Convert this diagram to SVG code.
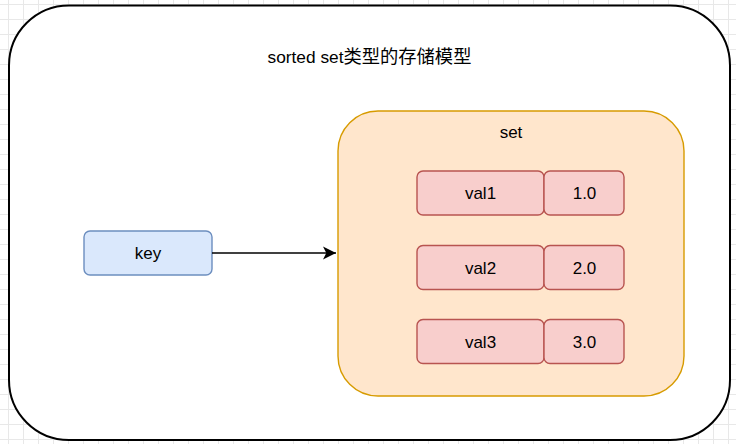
<svg xmlns="http://www.w3.org/2000/svg" width="736" height="444" viewBox="0 0 736 444">
<style>
text{font-family:"Liberation Sans",Arial,"Noto Sans CJK SC",sans-serif;font-size:17px;fill:#000;text-anchor:middle}
.title{font-size:17.3px}
.cjk{font-family:"Noto Sans CJK SC","Liberation Sans",sans-serif;font-size:18.3px}
.val{fill:#f8cecc;stroke:#b85450;stroke-width:1.4}
.key{fill:#dae8fc;stroke:#6c8ebf;stroke-width:1.4}
.set{fill:#ffe6cc;stroke:#d79b00;stroke-width:1.4}
.outer{fill:#fff;stroke:#000;stroke-width:2}
.edge{fill:none;stroke:#000;stroke-width:1.4}
</style>
<defs>
<pattern id="grid" x="8" y="4" width="15" height="15" patternUnits="userSpaceOnUse">
<path d="M0.5,0V15M0,0.5H15" fill="none" stroke="#e8e8e8" stroke-width="1"/>
</pattern>
<marker id="arrow" markerWidth="14" markerHeight="14" refX="13" refY="7" orient="auto" markerUnits="userSpaceOnUse">
<path d="M13,7L0,0.5L3.3,7L0,13.5Z" fill="#000"/>
</marker>
</defs>
<rect width="736" height="444" fill="#fff"/>
<rect width="736" height="444" fill="url(#grid)"/>
<g id="container">
<rect class="outer" x="9" y="5.5" width="721" height="434.5" rx="60"/>
<text class="title" x="369.5" y="63">sorted set<tspan class="cjk">类型的存储模型</tspan></text>
</g>
<g id="set">
<rect class="set" x="338" y="111" width="346" height="285" rx="40"/>
<text x="511" y="138">set</text>
</g>
<g id="key">
<rect class="key" x="84" y="231" width="128" height="44" rx="6"/>
<text x="148" y="259">key</text>
</g>
<g id="val1">
<rect class="val" x="417" y="171" width="127" height="44" rx="6"/>
<text x="480.5" y="199">val1</text>
</g>
<g id="score1">
<rect class="val" x="544" y="171" width="80" height="44" rx="6"/>
<text x="584.5" y="199">1.0</text>
</g>
<g id="val2">
<rect class="val" x="417" y="245.5" width="127" height="44" rx="6"/>
<text x="480.5" y="273.5">val2</text>
</g>
<g id="score2">
<rect class="val" x="544" y="245.5" width="80" height="44" rx="6"/>
<text x="584.5" y="273.5">2.0</text>
</g>
<g id="val3">
<rect class="val" x="417" y="319.5" width="127" height="44" rx="6"/>
<text x="480.5" y="347.5">val3</text>
</g>
<g id="score3">
<rect class="val" x="544" y="319.5" width="80" height="44" rx="6"/>
<text x="584.5" y="347.5">3.0</text>
</g>
<g id="connectors">
<path class="edge" d="M212,253H336" marker-end="url(#arrow)"/>
</g>
</svg>
